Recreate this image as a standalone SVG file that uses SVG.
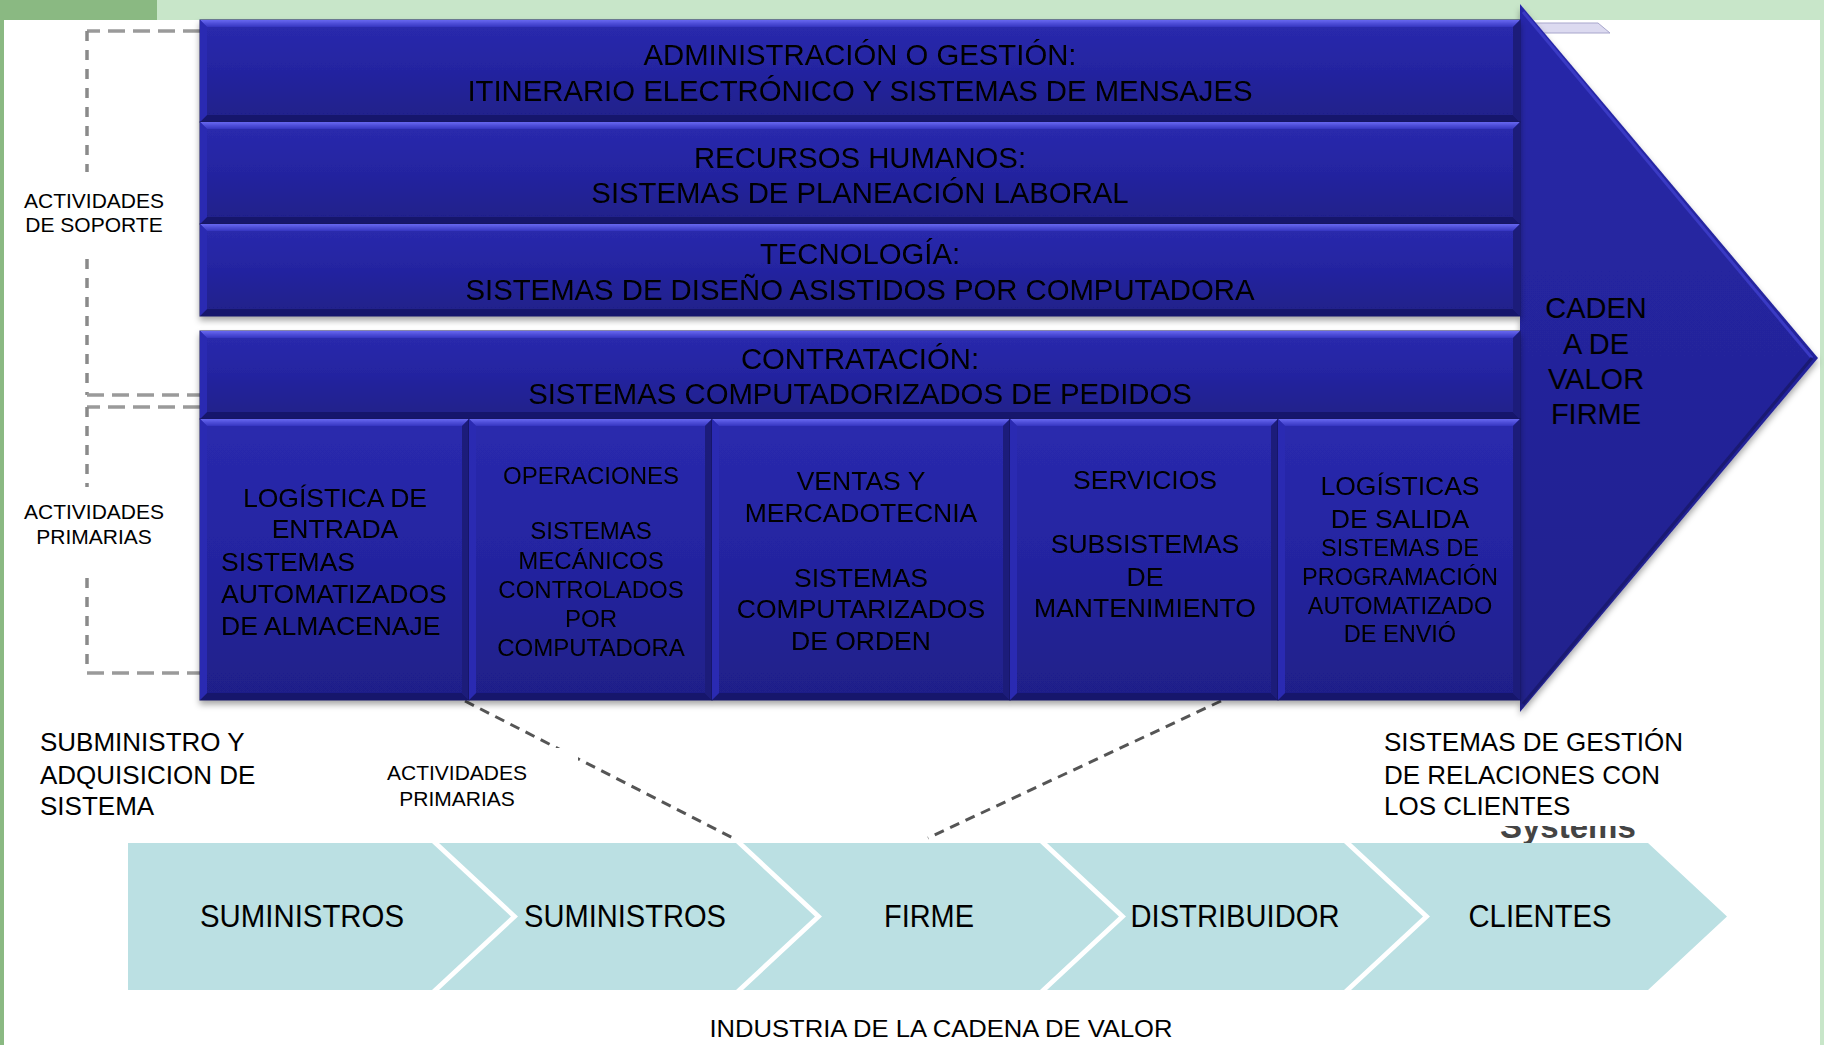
<svg xmlns="http://www.w3.org/2000/svg" width="1824" height="1045" viewBox="0 0 1824 1045">
<style>
.t{font-family:"Liberation Sans",Arial,sans-serif;fill:#000;text-anchor:middle}
.tl{font-family:"Liberation Sans",Arial,sans-serif;fill:#000;text-anchor:start}
.main{fill:url(#gMain);stroke:#15155c;stroke-width:1}
.bt{fill:url(#gTop)}
.bb{fill:#18186c}
.bl{fill:#2b2bb2}
.br{fill:#1c1c7a}
.hd{fill:none;stroke:#9a9a9a;stroke-width:3.5;stroke-dasharray:17 8}
.vd{fill:none;stroke:#8a8a8a;stroke-width:3.5;stroke-dasharray:10 9}
.dg{fill:none;stroke:#555;stroke-width:3;stroke-dasharray:10 7}
.chev{fill:#bbe0e3}
</style>
<defs>
<linearGradient id="gMain" x1="0" y1="0" x2="0" y2="1">
<stop offset="0" stop-color="#2a2aae"/>
<stop offset="0.5" stop-color="#2424a0"/>
<stop offset="1" stop-color="#1f1f88"/>
</linearGradient>
<linearGradient id="gTop" x1="0" y1="0" x2="0" y2="1">
<stop offset="0" stop-color="#6868f0"/>
<stop offset="1" stop-color="#3434c0"/>
</linearGradient>
<linearGradient id="gArrow" x1="0" y1="0" x2="0" y2="1">
<stop offset="0" stop-color="#2828aa"/>
<stop offset="1" stop-color="#20208c"/>
</linearGradient>
<filter id="sh" x="-5%" y="-5%" width="110%" height="115%">
<feDropShadow dx="0" dy="4" stdDeviation="3" flood-color="#000" flood-opacity="0.35"/>
</filter>
<clipPath id="sysClip"><rect x="1480" y="826" width="200" height="17"/></clipPath>
</defs>

<!-- background -->
<rect x="0" y="0" width="1824" height="1045" fill="#c8e6c9"/>
<rect x="0" y="0" width="157" height="20" fill="#8ab982"/>
<rect x="0" y="0" width="4" height="1045" fill="#8ab982"/>
<rect x="4" y="20" width="1816" height="1025" fill="#ffffff"/>

<!-- small hidden shape behind arrow -->
<polygon points="1520,23 1598,23 1610,33 1520,33" fill="#dcdaf0" stroke="#a8a6cc" stroke-width="1"/>

<!-- connectors -->
<g id="connectors">
<path class="hd" d="M200,31 H87"/>
<path class="vd" d="M87,31 V395"/>
<path class="hd" d="M87,395 H200"/>
<path class="hd" d="M200,407 H87"/>
<path class="vd" d="M87,407 V673"/>
<path class="hd" d="M87,673 H200"/>
<path class="dg" d="M465,701 L733,838"/>
<path class="dg" d="M1221,701 L928,838"/>
</g>

<!-- value chain arrow -->
<g id="arrow">
<polygon points="1520,4 1818,358 1520,712" fill="url(#gArrow)" filter="url(#sh)"/>
<polyline points="1523,12 1812,358" fill="none" stroke="#3a3ac4" stroke-width="3"/>
<polyline points="1812,358 1523,704" fill="none" stroke="#1a1a72" stroke-width="3"/>
<text class="t" font-size="29" x="1596" y="318">CADEN</text>
<text class="t" font-size="29" x="1596" y="354">A DE</text>
<text class="t" font-size="29" x="1596" y="389">VALOR</text>
<text class="t" font-size="29" x="1596" y="424">FIRME</text>
</g>

<g filter="url(#sh)">
<g id="admin">
<rect class="main" x="200" y="20" width="1320" height="102"/>
<polygon class="bt" points="200,20 1520,20 1513,27 207,27"/>
<polygon class="bb" points="200,122 1520,122 1513,115 207,115"/>
<polygon class="bl" points="200,20 207,27 207,115 200,122"/>
<polygon class="br" points="1520,20 1520,122 1513,115 1513,27"/>
<text class="t" font-size="29.3" x="860" y="65">ADMINISTRACIÓN O GESTIÓN:</text>
<text class="t" font-size="29.3" x="860" y="101">ITINERARIO ELECTRÓNICO Y SISTEMAS DE MENSAJES</text>
</g>
<g id="rrhh">
<rect class="main" x="200" y="122" width="1320" height="102"/>
<polygon class="bt" points="200,122 1520,122 1513,129 207,129"/>
<polygon class="bb" points="200,224 1520,224 1513,217 207,217"/>
<polygon class="bl" points="200,122 207,129 207,217 200,224"/>
<polygon class="br" points="1520,122 1520,224 1513,217 1513,129"/>
<text class="t" font-size="29.3" x="860" y="168">RECURSOS HUMANOS:</text>
<text class="t" font-size="29.3" x="860" y="203">SISTEMAS DE PLANEACIÓN LABORAL</text>
</g>
<g id="tecnologia">
<rect class="main" x="200" y="224" width="1320" height="92"/>
<polygon class="bt" points="200,224 1520,224 1513,231 207,231"/>
<polygon class="bb" points="200,316 1520,316 1513,309 207,309"/>
<polygon class="bl" points="200,224 207,231 207,309 200,316"/>
<polygon class="br" points="1520,224 1520,316 1513,309 1513,231"/>
<text class="t" font-size="29.3" x="860" y="264">TECNOLOGÍA:</text>
<text class="t" font-size="29.3" x="860" y="300">SISTEMAS DE DISEÑO ASISTIDOS POR COMPUTADORA</text>
</g>
</g>

<g filter="url(#sh)">
<g id="contratacion">
<rect class="main" x="200" y="331" width="1320" height="88"/>
<polygon class="bt" points="200,331 1520,331 1513,338 207,338"/>
<polygon class="bb" points="200,419 1520,419 1513,412 207,412"/>
<polygon class="bl" points="200,331 207,338 207,412 200,419"/>
<polygon class="br" points="1520,331 1520,419 1513,412 1513,338"/>
<text class="t" font-size="29.3" x="860" y="369">CONTRATACIÓN:</text>
<text class="t" font-size="29.3" x="860" y="404">SISTEMAS COMPUTADORIZADOS DE PEDIDOS</text>
</g>
<g id="logistica-entrada">
<rect class="main" x="200" y="419" width="269" height="281"/>
<polygon class="bt" points="200,419 469,419 462,426 207,426"/>
<polygon class="bb" points="200,700 469,700 462,693 207,693"/>
<polygon class="bl" points="200,419 207,426 207,693 200,700"/>
<polygon class="br" points="469,419 469,700 462,693 462,426"/>
<text class="t" font-size="26.5" x="335" y="506.5">LOGÍSTICA DE</text>
<text class="t" font-size="26.5" x="335" y="537.5">ENTRADA</text>
<text class="tl" font-size="26.5" x="221" y="570.5">SISTEMAS</text>
<text class="tl" font-size="26.5" x="221" y="602.5">AUTOMATIZADOS</text>
<text class="tl" font-size="26.5" x="221" y="634.5">DE ALMACENAJE</text>
</g>
<g id="operaciones">
<rect class="main" x="469" y="419" width="243" height="281"/>
<polygon class="bt" points="469,419 712,419 705,426 476,426"/>
<polygon class="bb" points="469,700 712,700 705,693 476,693"/>
<polygon class="bl" points="469,419 476,426 476,693 469,700"/>
<polygon class="br" points="712,419 712,700 705,693 705,426"/>
<text class="t" font-size="24" x="591" y="483.6">OPERACIONES</text>
<text class="t" font-size="24" x="591" y="538.6">SISTEMAS</text>
<text class="t" font-size="24" x="591" y="568.6">MECÁNICOS</text>
<text class="t" font-size="24" x="591" y="597.6">CONTROLADOS</text>
<text class="t" font-size="24" x="591" y="626.6">POR</text>
<text class="t" font-size="24" x="591" y="655.6">COMPUTADORA</text>
</g>
<g id="ventas">
<rect class="main" x="712" y="419" width="298" height="281"/>
<polygon class="bt" points="712,419 1010,419 1003,426 719,426"/>
<polygon class="bb" points="712,700 1010,700 1003,693 719,693"/>
<polygon class="bl" points="712,419 719,426 719,693 712,700"/>
<polygon class="br" points="1010,419 1010,700 1003,693 1003,426"/>
<text class="t" font-size="26.5" x="861" y="489.7">VENTAS Y</text>
<text class="t" font-size="26.5" x="861" y="521.7">MERCADOTECNIA</text>
<text class="t" font-size="26.5" x="861" y="586.7">SISTEMAS</text>
<text class="t" font-size="26.5" x="861" y="617.7">COMPUTARIZADOS</text>
<text class="t" font-size="26.5" x="861" y="649.7">DE ORDEN</text>
</g>
<g id="servicios">
<rect class="main" x="1010" y="419" width="268" height="281"/>
<polygon class="bt" points="1010,419 1278,419 1271,426 1017,426"/>
<polygon class="bb" points="1010,700 1278,700 1271,693 1017,693"/>
<polygon class="bl" points="1010,419 1017,426 1017,693 1010,700"/>
<polygon class="br" points="1278,419 1278,700 1271,693 1271,426"/>
<text class="t" font-size="26.5" x="1145" y="488.5">SERVICIOS</text>
<text class="t" font-size="26.5" x="1145" y="552.5">SUBSISTEMAS</text>
<text class="t" font-size="26.5" x="1145" y="585.5">DE</text>
<text class="t" font-size="26.5" x="1145" y="616.5">MANTENIMIENTO</text>
</g>
<g id="logistica-salida">
<rect class="main" x="1278" y="419" width="242" height="281"/>
<polygon class="bt" points="1278,419 1520,419 1513,426 1285,426"/>
<polygon class="bb" points="1278,700 1520,700 1513,693 1285,693"/>
<polygon class="bl" points="1278,419 1285,426 1285,693 1278,700"/>
<polygon class="br" points="1520,419 1520,700 1513,693 1513,426"/>
<text class="t" font-size="26.5" x="1400" y="494.5">LOGÍSTICAS</text>
<text class="t" font-size="26.5" x="1400" y="527.5">DE SALIDA</text>
<text class="t" font-size="23.5" x="1400" y="556.4">SISTEMAS DE</text>
<text class="t" font-size="23.5" x="1400" y="585.4">PROGRAMACIÓN</text>
<text class="t" font-size="23.5" x="1400" y="614.4">AUTOMATIZADO</text>
<text class="t" font-size="23.5" x="1400" y="642.4">DE ENVIÓ</text>
</g>
</g>

<!-- side labels -->
<g id="label-soporte">
<rect x="12" y="172" width="158" height="78" fill="#fff"/>
<text class="t" font-size="21" x="94" y="207.5">ACTIVIDADES</text>
<text class="t" font-size="21" x="94" y="232">DE SOPORTE</text>
</g>
<g id="label-primarias">
<rect x="12" y="487" width="158" height="86" fill="#fff"/>
<text class="t" font-size="21" x="94" y="519.4">ACTIVIDADES</text>
<text class="t" font-size="21" x="94" y="543.8">PRIMARIAS</text>
</g>
<g id="label-primarias-2">
<rect x="372" y="748" width="206" height="64" fill="#fff"/>
<text class="t" font-size="21" x="457" y="780">ACTIVIDADES</text>
<text class="t" font-size="21" x="457" y="805.5">PRIMARIAS</text>
</g>
<g id="label-suministro">
<text class="tl" font-size="26" x="40" y="751.3">SUBMINISTRO Y</text>
<text class="tl" font-size="26" x="40" y="784.3">ADQUISICION DE</text>
<text class="tl" font-size="26" x="40" y="815.3">SISTEMA</text>
</g>
<g id="label-crm">
<text x="1500" y="838" clip-path="url(#sysClip)" font-family="Liberation Sans, Arial, sans-serif" font-weight="bold" font-size="33" fill="#444">Systems</text>
<text class="tl" font-size="26" x="1384" y="751.3">SISTEMAS DE GESTIÓN</text>
<text class="tl" font-size="26" x="1384" y="784.3">DE RELACIONES CON</text>
<text class="tl" font-size="26" x="1384" y="815.3">LOS CLIENTES</text>
</g>

<!-- industry value chain -->
<g id="suministros-1">
<polygon class="chev" points="128,843 432,843 511,916.5 432,990 128,990"/>
<text class="t" font-size="32" x="302" y="927" textLength="204" lengthAdjust="spacingAndGlyphs">SUMINISTROS</text>
</g>
<g id="suministros-2">
<polygon class="chev" points="439,843 736,843 815,916.5 736,990 439,990 518,916.5"/>
<text class="t" font-size="32" x="625" y="927" textLength="202" lengthAdjust="spacingAndGlyphs">SUMINISTROS</text>
</g>
<g id="firme">
<polygon class="chev" points="743,843 1040,843 1119,916.5 1040,990 743,990 822,916.5"/>
<text class="t" font-size="32" x="929" y="927" textLength="90" lengthAdjust="spacingAndGlyphs">FIRME</text>
</g>
<g id="distribuidor">
<polygon class="chev" points="1047,843 1344,843 1423,916.5 1344,990 1047,990 1126,916.5"/>
<text class="t" font-size="32" x="1235" y="927" textLength="209" lengthAdjust="spacingAndGlyphs">DISTRIBUIDOR</text>
</g>
<g id="clientes">
<polygon class="chev" points="1351,843 1648,843 1727,916.5 1648,990 1351,990 1430,916.5"/>
<text class="t" font-size="32" x="1540" y="927" textLength="143" lengthAdjust="spacingAndGlyphs">CLIENTES</text>
</g>
<text class="t" font-size="24" x="941" y="1036.6" textLength="463" lengthAdjust="spacingAndGlyphs">INDUSTRIA DE LA CADENA DE VALOR</text>
</svg>
